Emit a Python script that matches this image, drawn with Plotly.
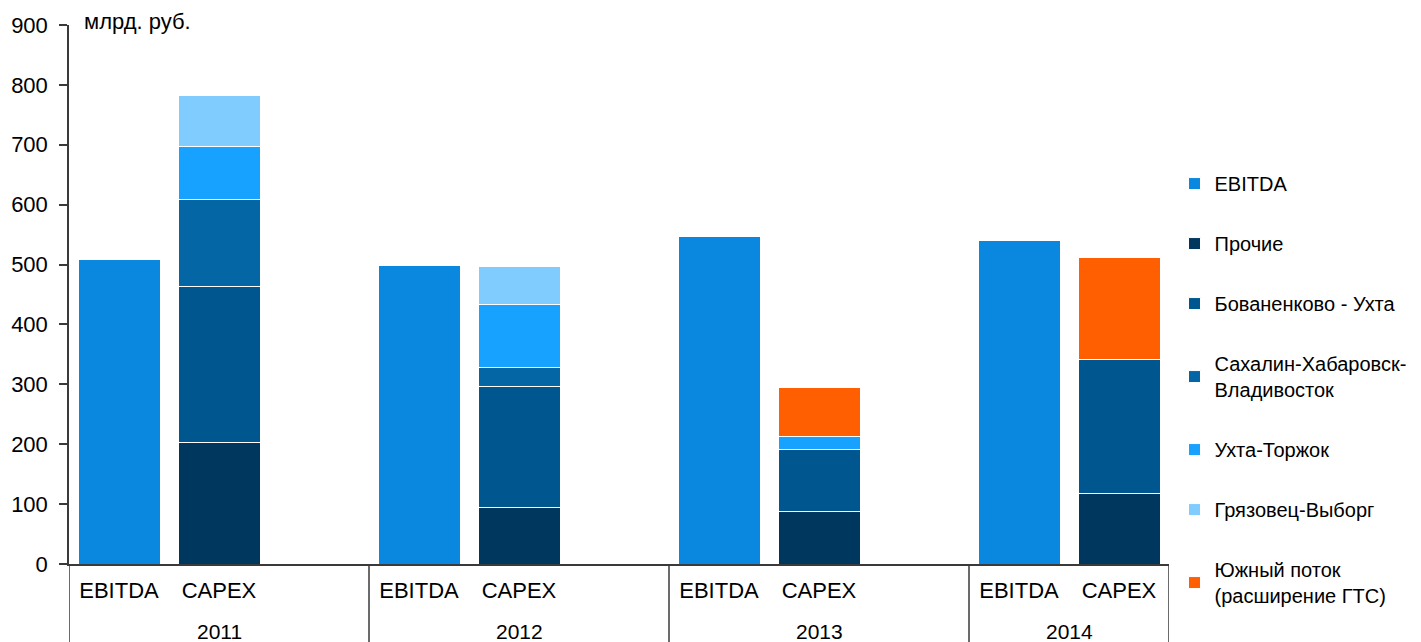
import plotly.graph_objects as go

years = ["2011", "2012", "2013", "2014"]
bar_labels = ["EBITDA", "CAPEX"]

ebitda = [509, 499, 547, 541]
prochie = [203, 95, 88, 117]
bovanenkovo = [260, 202, 103, 224]
sakhalin = [145, 31, None, None]
ukhta_torzhok = [89, 106, 22, None]
gryazovets = [85, 63, None, None]
yuzhny = [None, None, 82, 170]

capex_series = [
    ("Прочие", prochie, "#00375E"),
    ("Бованенково - Ухта", bovanenkovo, "#00568F"),
    ("Сахалин-Хабаровск-<br>Владивосток", sakhalin, "#0566A6"),
    ("Ухта-Торжок", ukhta_torzhok, "#17A2FF"),
    ("Грязовец-Выборг", gryazovets, "#80CCFF"),
    ("Южный поток<br>(расширение ГТС)", yuzhny, "#FF5F00"),
]

FONT = "Liberation Sans, Arial, sans-serif"

# slot positions: each year group = EBITDA, CAPEX, gap
ebitda_x = [3 * i for i in range(len(years))]
capex_x = [3 * i + 1 for i in range(len(years))]

fig = go.Figure()
fig.add_trace(go.Bar(
    x=ebitda_x, y=ebitda, name="EBITDA", marker_color="#0A88E0",
    marker_line=dict(color="white", width=1), width=0.82, legendgroup="g0",
))
for k, (name, vals, col) in enumerate(capex_series):
    fig.add_trace(go.Bar(
        x=capex_x, y=vals, name=name, marker_color=col,
        marker_line=dict(color="white", width=1), width=0.82, legendgroup=f"g{k+1}",
    ))

n_slots = 3 * len(years) - 1
tickvals = []
ticktext = []
for i in range(len(years)):
    tickvals += [ebitda_x[i], capex_x[i]]
    ticktext += bar_labels

shapes = []
annotations = []
bounds = [-0.5 + 3 * i for i in range(len(years))] + [n_slots - 0.5]
for b in bounds:
    shapes.append(dict(type="line", xref="x", yref="paper", x0=b, x1=b, y0=0, y1=-0.145,
                       line=dict(color="#3a3a3a", width=1.5)))
for i, yr in enumerate(years):
    annotations.append(dict(x=(bounds[i] + bounds[i + 1]) / 2, y=-0.125, xref="x", yref="paper",
                            text=yr, showarrow=False, xanchor="center", yanchor="middle",
                            font=dict(family=FONT, size=21, color="black")))
annotations.append(dict(x=0.012, y=1.006, xref="paper", yref="paper", text="млрд. руб.",
                        showarrow=False, xanchor="left", yanchor="middle",
                        font=dict(family=FONT, size=22, color="black")))

fig.update_layout(
    width=1413, height=634,
    margin=dict(l=61, r=252, t=17, b=78, autoexpand=False),
    barmode="stack",
    plot_bgcolor="white", paper_bgcolor="white",
    font=dict(family=FONT, size=20, color="black"),
    xaxis=dict(range=[-0.5, n_slots - 0.5], tickvals=tickvals, ticktext=ticktext,
               showline=True, linecolor="#3a3a3a", linewidth=1.5, ticks="",
               showgrid=False, zeroline=False, tickfont=dict(size=22),
               automargin=False, ticklabelstandoff=6),
    yaxis=dict(range=[0, 900], dtick=100, showline=True, linecolor="#3a3a3a", linewidth=1.5,
               ticks="outside", ticklen=8, tickcolor="#3a3a3a", tickwidth=1.5,
               showgrid=False, zeroline=False, tickfont=dict(size=22),
               automargin=False, ticklabelstandoff=7),
    legend=dict(x=1.005, y=0.742, xanchor="left", yanchor="top", traceorder="grouped",
                tracegroupgap=31, font=dict(size=20, color="black"), itemwidth=30),
    shapes=shapes, annotations=annotations, showlegend=True,
)

fig.write_html("out.html")
